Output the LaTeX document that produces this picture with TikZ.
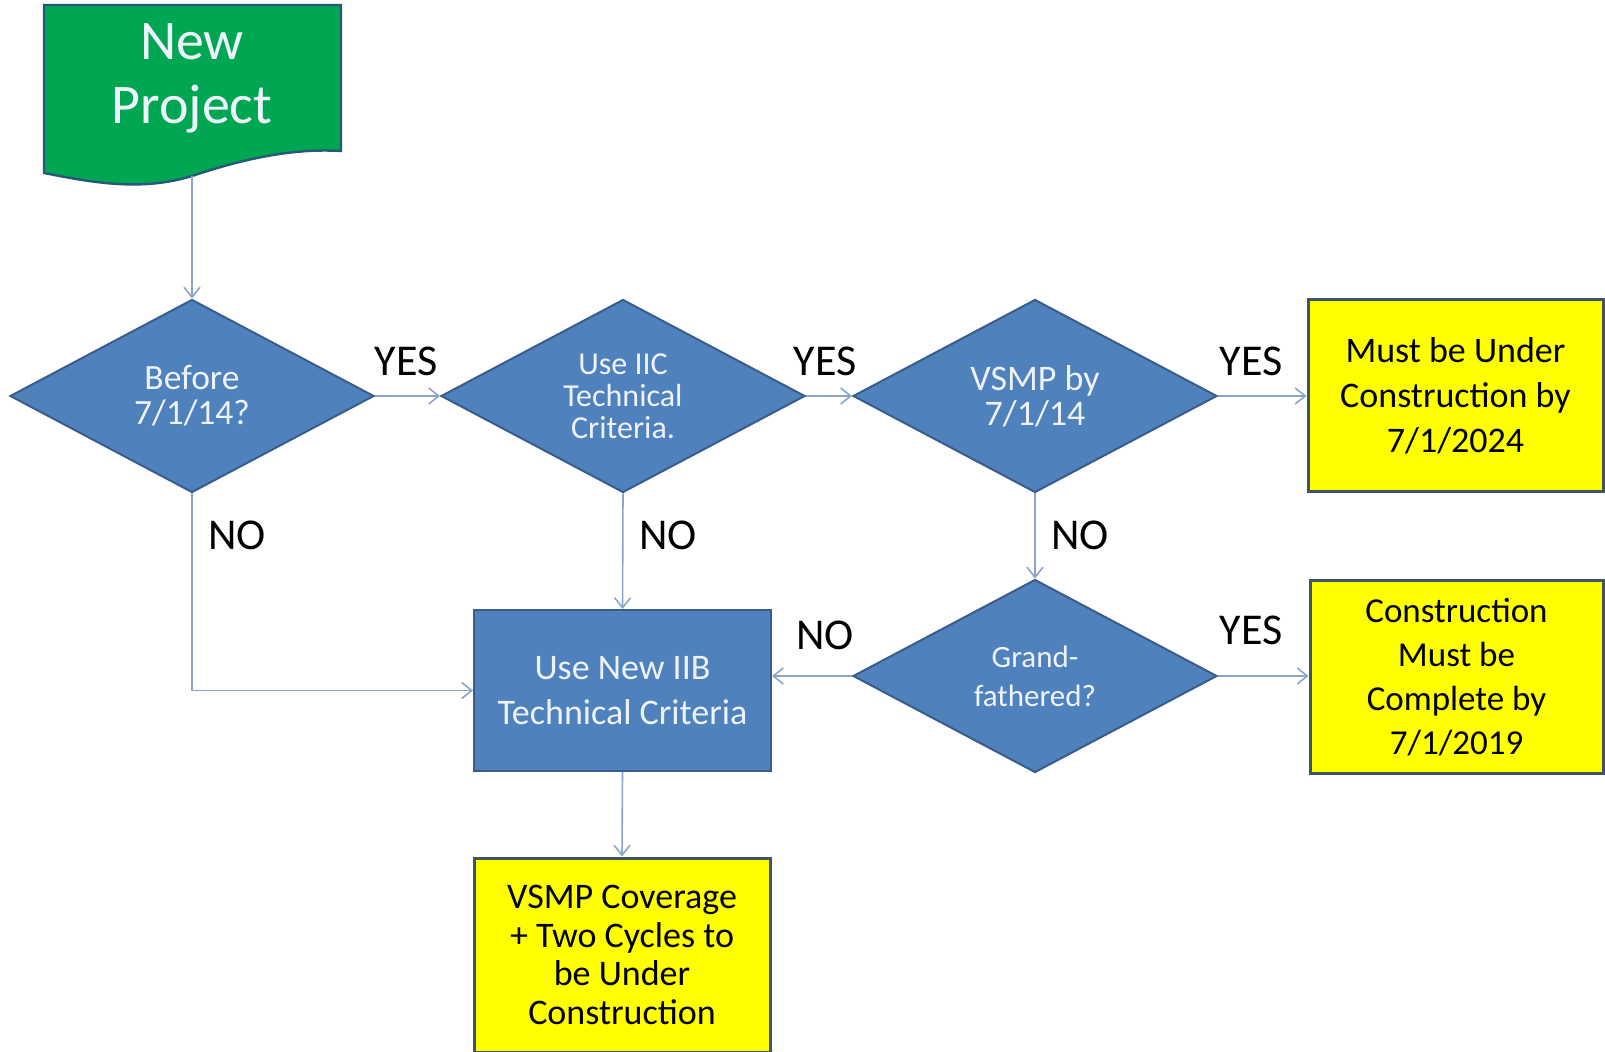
\documentclass[tikz,border=0pt]{standalone}
\usepackage{fontspec}
\setmainfont{Carlito}
\usetikzlibrary{shapes.geometric,arrows.meta}
\definecolor{dfill}{HTML}{4F81BD}
\definecolor{dline}{HTML}{385D8A}
\definecolor{connc}{HTML}{8AA5C8}
\definecolor{ybord}{HTML}{3E5568}
\definecolor{gfill}{HTML}{00A651}
\definecolor{gline}{HTML}{26587A}
\definecolor{ltxt}{HTML}{EEF3FB}
\definecolor{yfill}{HTML}{FFFF00}
\begin{document}
\begin{tikzpicture}[x=0.5pt,y=-0.5pt,
  dec/.style={diamond, draw=dline, fill=dfill, line width=1pt, minimum width=182pt, minimum height=96.5pt, inner sep=0pt, text=ltxt, align=center},
  dtext/.style={inner sep=0pt, text=ltxt, align=center},
  bluebox/.style={rectangle, draw=dline, fill=dfill, line width=1pt, inner sep=0pt, text=ltxt, align=center},
  ybox/.style={rectangle, draw=ybord, fill=yfill, line width=1.5pt, inner sep=0pt, text=black, align=center},
  conn/.style={draw=connc, line width=0.8pt, -{Straight Barb[length=5pt,width=8pt]}},
  lab/.style={font=\fontsize{22pt}{26pt}\selectfont, text=black, inner sep=0pt}
]
\useasboundingbox[fill=white] (0,0) rectangle (1605,1052);

% New Project document shape
\draw[gline, line width=1.2pt, fill=gfill] (44,5) -- (341,5) -- (341,151)
  .. controls (290,148) and (240,160) .. (192,176)
  .. controls (140,192) and (90,182) .. (44,173) -- cycle;
\coordinate (npb) at (192,176);
\node[text=ltxt, align=center, inner sep=0pt, font=\fontsize{28pt}{32pt}\selectfont] (np) at (192,78) {New\\Project};

% decisions
\node[dec, font=\fontsize{17.75pt}{17.5pt}\selectfont] (d1) at (192,396) {Before\\7/1/14?};
\node[dec] (d2) at (623,396) {};
\node[dtext, font=\fontsize{16pt}{16pt}\selectfont] (d2t) at (d2) {Use IIC\\Technical\\Criteria.};
\node[dec, font=\fontsize{18pt}{17.5pt}\selectfont] (d3) at (1035,396) {VSMP by\\7/1/14};
\node[dec, font=\fontsize{15.5pt}{19.5pt}\selectfont] (gf) at (1035,676) {Grand-\\fathered?};

% boxes
\node[ybox, minimum width=147.5pt, minimum height=96pt, font=\fontsize{18pt}{22.5pt}\selectfont] (y1) at (1455.5,396) {Must be Under\\Construction by\\7/1/2024};
\node[ybox, minimum width=146.5pt, minimum height=96pt, font=\fontsize{17.5pt}{22pt}\selectfont] (y2) at (1456.5,677) {Construction\\Must be\\Complete by\\7/1/2019};
\node[bluebox, minimum width=148.5pt, minimum height=80.5pt, font=\fontsize{18pt}{22.5pt}\selectfont] (iib) at (622.5,690.5) {Use New IIB\\Technical Criteria};
\node[ybox, minimum width=148pt, minimum height=97pt, font=\fontsize{18pt}{19.2pt}\selectfont] (y3) at (622,955) {VSMP Coverage\\+ Two Cycles to\\be Under\\Construction};

% connectors
\draw[conn] (npb) -- (d1.north);
\draw[conn] (d1.east) -- (d2.west);
\draw[conn] (d2.east) -- (d3.west);
\draw[conn] (d3.east) -- (d3.east -| y1.west);
\draw[conn] (d1.south) |- (iib.west);
\draw[conn] (d2.south) -- (iib.north);
\draw[conn] (d3.south) -- (gf.north);
\draw[conn] (gf.west) -- (gf.west -| iib.east);
\draw[conn] (gf.east) -- (gf.east -| y2.west);
\draw[conn] (iib.south) -- (y3.north);

% labels
\node[lab] (l1) at (406,361) {YES};
\node[lab] (l2) at (825,361) {YES};
\node[lab] (l3) at (1251,361) {YES};
\node[lab] (l4) at (237,535) {NO};
\node[lab] (l5) at (668,535) {NO};
\node[lab] (l6) at (1080,535) {NO};
\node[lab] (l7) at (825,635) {NO};
\node[lab] (l8) at (1251,630) {YES};
\end{tikzpicture}
\end{document}
